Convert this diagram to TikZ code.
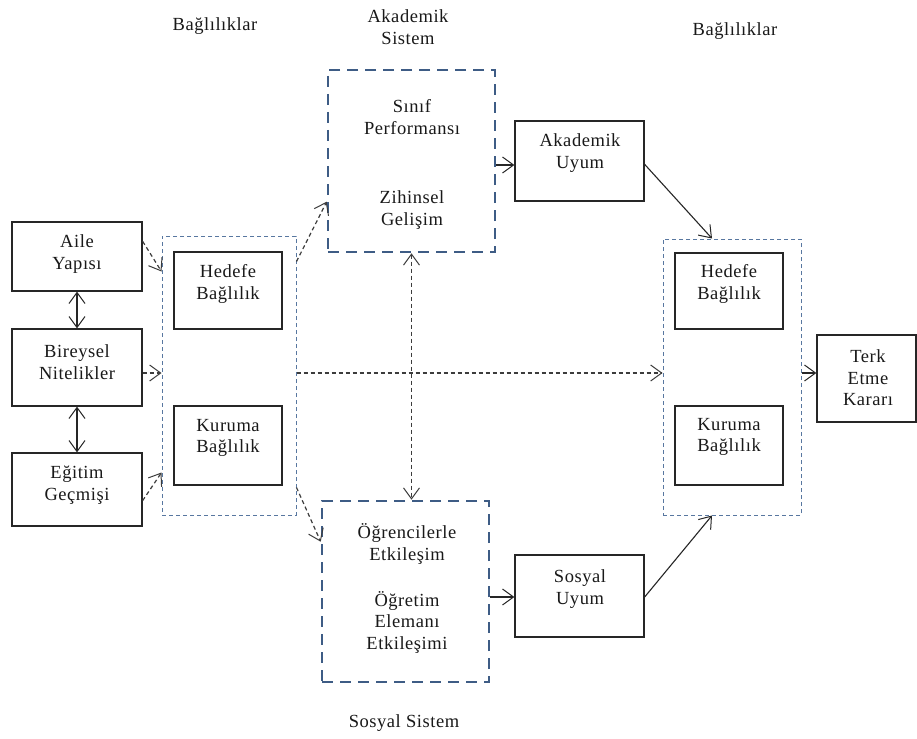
\documentclass[tikz,border=0pt]{standalone}
\usepackage{fontspec}
\setmainfont{Liberation Serif}[LetterSpace=3]
\usetikzlibrary{arrows.meta}

\definecolor{frameblue}{HTML}{3E5C85}
\definecolor{groupblue}{HTML}{5877A0}
\definecolor{ink}{HTML}{262626}

\tikzset{
  box/.style={draw=ink,line width=1.3pt,inner sep=0pt,fill=white},
  sysframe/.style={draw=frameblue,line width=2.6pt,dash pattern=on 11pt off 7pt,inner sep=0pt},
  group/.style={draw=groupblue,line width=1pt,dash pattern=on 4pt off 3pt,inner sep=0pt},
  txt/.style={align=center,font=\fontsize{18.5}{21.5}\selectfont,inner sep=0pt,text=black!90},
  barb/.tip={Straight Barb[length=11pt,width=16pt,line width=1pt]},
  link/.style={draw=ink,line width=1.1pt,-barb},
  dlink/.style={draw=ink!90,line width=1.2pt,dash pattern=on 4pt off 3pt,-barb},
}

\begin{document}
\begin{tikzpicture}[x=1pt,y=-1pt]
\useasboundingbox[fill=white] (0,0) rectangle (917,738);

% headings
\node[txt] (hl) at (215,26) {Bağlılıklar};
\node[txt] (ha) at (408,27) {Akademik\\Sistem};
\node[txt] (hr) at (735,31) {Bağlılıklar};
\node[txt] (hs) at (404,723) {Sosyal Sistem};

% left column: background factors
\node[box,minimum width=130pt,minimum height=69pt] (aile) at (77,256.5) {};
\node[box,minimum width=130pt,minimum height=77pt] (bir) at (77,367.5) {};
\node[box,minimum width=130pt,minimum height=73pt] (egi) at (77,489.5) {};
\node[txt] (ailet) at (77,254) {Aile\\Yapısı};
\node[txt] (birt) at (77,362) {Bireysel\\Nitelikler};
\node[txt] (egit) at (77,485) {Eğitim\\Geçmişi};

% commitments, initial
\node[group,minimum width=134pt,minimum height=279pt] (lc) at (229,375.5) {};
\node[box,minimum width=108pt,minimum height=77pt] (lhed) at (228,290.5) {};
\node[box,minimum width=108pt,minimum height=79pt] (lkur) at (228,445.5) {};
\node[txt] (lhedt) at (228,284) {Hedefe\\Bağlılık};
\node[txt] (lkurt) at (228,438) {Kuruma\\Bağlılık};

% academic and social systems
\node[sysframe,minimum width=167pt,minimum height=182pt] (akad) at (411.5,161) {};
\node[txt] (akadt1) at (412,117) {Sınıf\\Performansı};
\node[txt] (akadt2) at (412,210) {Zihinsel\\Gelişim};
\node[sysframe,minimum width=167pt,minimum height=181pt] (sos) at (405.5,591.5) {};
\node[txt] (sost1) at (407,544) {Öğrencilerle\\Etkileşim};
\node[txt] (sost2) at (407,622) {Öğretim\\Elemanı\\Etkileşimi};

% integration
\node[box,minimum width=129pt,minimum height=80pt] (aku) at (579.5,161) {};
\node[txt] (akut) at (580,153) {Akademik\\Uyum};
\node[box,minimum width=129pt,minimum height=82pt] (sou) at (579.5,596) {};
\node[txt] (sout) at (580,589) {Sosyal\\Uyum};

% commitments, later
\node[group,minimum width=138pt,minimum height=276pt] (rc) at (732,377) {};
\node[box,minimum width=108pt,minimum height=76pt] (rhed) at (729,291) {};
\node[box,minimum width=108pt,minimum height=79pt] (rkur) at (729,445.5) {};
\node[txt] (rhedt) at (729,284) {Hedefe\\Bağlılık};
\node[txt] (rkurt) at (729,437) {Kuruma\\Bağlılık};

% outcome
\node[box,minimum width=99pt,minimum height=87pt] (terk) at (866.5,378.5) {};
\node[txt] (terkt) at (868,378) {Terk\\Etme\\Kararı};

% background factors among themselves
\draw[link,barb-barb] (aile.south) -- (bir.north);
\draw[link,barb-barb] (bir.south) -- (egi.north);

% background factors into initial commitments
\draw[dlink] ([yshift=-20pt]aile.north east) -- ([yshift=-36pt]lc.north west);
\draw[dlink] ([yshift=-5.5pt]bir.east) -- ([yshift=-5.5pt]bir.east -| lc.west);
\draw[dlink] ([yshift=26pt]egi.south east) -- ([yshift=43pt]lc.south west);

% initial commitments into the systems and onward
\draw[dlink] ([yshift=-26pt]lc.north east) -- ([yshift=-133pt]akad.north west);
\draw[dlink] ([yshift=28pt]lc.south east) -- ([yshift=-42pt]sos.north west);
\draw[dlink] ([yshift=2.5pt]lc.east) -- ([yshift=2.5pt]lc.east -| rc.west);
\draw[dlink,barb-barb] (akad.south) -- (akad.south |- sos.north);

% systems into integration
\draw[link] ([yshift=-4pt]aku.west -| akad.east) -- ([yshift=-4pt]aku.west);
\draw[link] ([yshift=-1pt]sou.west -| sos.east) -- ([yshift=-1pt]sou.west);

% integration into later commitments
\draw[link] ([yshift=-44pt]aku.north east) -- ([xshift=-20pt]rc.north);
\draw[link] ([yshift=-1pt]sou.east) -- ([xshift=-20pt]rc.south);

% later commitments into the decision
\draw[link] ([yshift=5.5pt]terk.west -| rc.east) -- ([yshift=5.5pt]terk.west);
\end{tikzpicture}
\end{document}
